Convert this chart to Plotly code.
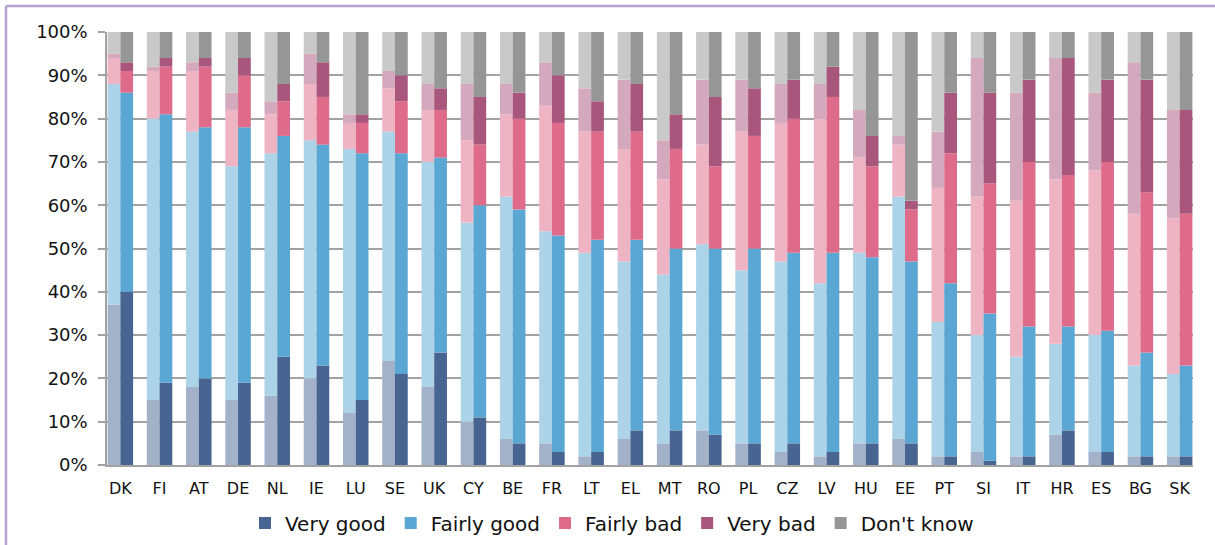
import numpy as np
import plotly.graph_objects as go

countries = ["DK", "FI", "AT", "DE", "NL", "IE", "LU", "SE", "UK", "CY", "BE", "FR", "LT", "EL",
             "MT", "RO", "PL", "CZ", "LV", "HU", "EE", "PT", "SI", "IT", "HR", "ES", "BG", "SK"]

categories = ["Very good", "Fairly good", "Fairly bad", "Very bad", "Don't know"]

# Previous wave (pale bars, left of each pair)
prev_very_good = [37, 15, 18, 15, 16, 20, 12, 24, 18, 10, 6, 5, 2, 6, 5, 8, 5, 3, 2, 5, 6, 2, 3, 2, 7, 3, 2, 2]
prev_fairly_good = [51, 65, 59, 54, 56, 55, 61, 53, 52, 46, 56, 49, 47, 41, 39, 43, 40, 44, 40, 44, 56, 31, 27, 23, 21, 27, 21, 19]
prev_fairly_bad = [6, 11, 14, 13, 9, 13, 6, 10, 12, 19, 19, 29, 28, 26, 22, 23, 32, 32, 38, 22, 12, 31, 32, 36, 38, 38, 35, 36]
prev_very_bad = [1, 1, 2, 4, 3, 7, 2, 4, 6, 13, 7, 10, 10, 16, 9, 15, 12, 9, 8, 11, 2, 13, 32, 25, 28, 18, 35, 25]
prev_dont_know = [5, 8, 7, 14, 16, 5, 19, 9, 12, 12, 12, 7, 13, 11, 25, 11, 11, 12, 12, 18, 24, 23, 6, 14, 6, 14, 7, 18]

# Current wave (full-colour bars, right of each pair)
curr_very_good = [40, 19, 20, 19, 25, 23, 15, 21, 26, 11, 5, 3, 3, 8, 8, 7, 5, 5, 3, 5, 5, 2, 1, 2, 8, 3, 2, 2]
curr_fairly_good = [46, 62, 58, 59, 51, 51, 57, 51, 45, 49, 54, 50, 49, 44, 42, 43, 45, 44, 46, 43, 42, 40, 34, 30, 24, 28, 24, 21]
curr_fairly_bad = [5, 11, 14, 12, 8, 11, 7, 12, 11, 14, 21, 26, 25, 25, 23, 19, 26, 31, 36, 21, 12, 30, 30, 38, 35, 39, 37, 35]
curr_very_bad = [2, 2, 2, 4, 4, 8, 2, 6, 5, 11, 6, 11, 7, 11, 8, 16, 11, 9, 7, 7, 2, 14, 21, 19, 27, 19, 26, 24]
curr_dont_know = [7, 6, 6, 6, 12, 7, 19, 10, 13, 15, 14, 10, 16, 12, 19, 15, 13, 11, 8, 24, 39, 14, 14, 11, 6, 11, 11, 18]

prev_series = [prev_very_good, prev_fairly_good, prev_fairly_bad, prev_very_bad, prev_dont_know]
curr_series = [curr_very_good, curr_fairly_good, curr_fairly_bad, curr_very_bad, curr_dont_know]

curr_colors = ["#486491", "#5aa7d3", "#de6b8a", "#a8567b", "#969696"]
prev_colors = ["#a3b1c9", "#acd3e7", "#efb4c4", "#d4a9bd", "#c9c9c9"]

BAR_W = 0.325

fig = go.Figure()


def add_stack(series, colors, offset, show_legend):
    base = np.zeros(len(countries))
    for name, vals, col in zip(categories, series, colors):
        vals = np.asarray(vals, dtype=float)
        fig.add_trace(go.Bar(
            x=countries, y=vals, base=base.copy(), name=name,
            offset=offset, width=BAR_W,
            marker=dict(color=col, line=dict(width=0)),
            legendgroup=name, showlegend=show_legend,
            hovertemplate="%{x}: %{y}%<extra>" + name + "</extra>",
        ))
        base = base + vals


add_stack(prev_series, prev_colors, -BAR_W, False)
add_stack(curr_series, curr_colors, 0.0, True)

grid_col = "#a2a2a2"

fig.update_layout(
    barmode="overlay",
    width=1215, height=545,
    margin=dict(l=107, r=22, t=32, b=80, autoexpand=False),
    paper_bgcolor="white", plot_bgcolor="white",
    font=dict(family="DejaVu Sans", color="#111111"),
    legend=dict(
        orientation="h", x=0.465, xanchor="center", y=-0.134, yanchor="middle",
        font=dict(size=20, family="DejaVu Sans", color="#111111"),
        traceorder="normal", bgcolor="rgba(0,0,0,0)",
    ),
    shapes=[
        dict(type="line", xref="paper", yref="paper",
             x0=(6 - 107) / 1086, x1=1.05, y0=(465 - 6) / 433, y1=(465 - 6) / 433,
             line=dict(color="#b3a2d0", width=2.5)),
        dict(type="line", xref="paper", yref="paper",
             x0=(6 - 107) / 1086, x1=(6 - 107) / 1086, y0=-0.3, y1=(465 - 6) / 433,
             line=dict(color="#b3a2d0", width=2.5)),
    ],
)

fig.update_xaxes(
    type="category", range=[-0.34, len(countries) - 1 + 0.34],
    showgrid=False, showline=True, linecolor=grid_col, linewidth=1.5,
    ticks="", tickfont=dict(size=16, color="#111111"),
    ticklabelstandoff=8, automargin=False, fixedrange=True,
)

fig.update_yaxes(
    range=[0, 100], dtick=10, ticksuffix="%",
    showgrid=True, gridcolor=grid_col, gridwidth=1.5,
    showline=True, linecolor=grid_col, linewidth=1.5,
    ticks="outside", ticklen=7, tickcolor=grid_col, tickwidth=1.5,
    tickfont=dict(size=18, color="#111111"),
    ticklabelstandoff=7, zeroline=False, automargin=False, fixedrange=True,
)

fig.write_html("out.html")
